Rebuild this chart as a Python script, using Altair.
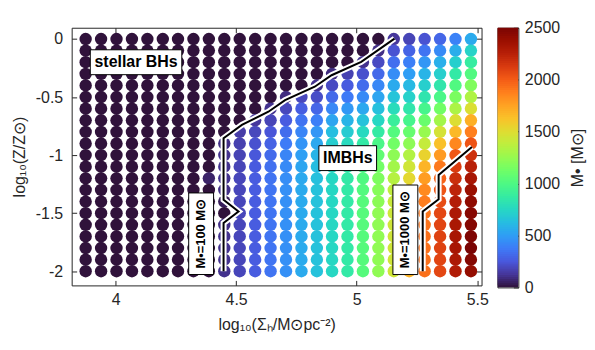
import altair as alt
import pandas as pd

# log10(Sigma_h) grid (columns) and log10(Z/Zsun) grid (rows)
x_vals = [3.876, 3.940, 4.004, 4.068, 4.132, 4.196, 4.259, 4.323, 4.387, 4.451,
          4.515, 4.579, 4.643, 4.707, 4.771, 4.835, 4.898, 4.962, 5.026, 5.090,
          5.154, 5.218, 5.282, 5.346, 5.410, 5.474]
y_vals = [0.0, -0.1, -0.2, -0.3, -0.4, -0.5, -0.6, -0.7, -0.8, -0.9, -1.0,
          -1.1, -1.2, -1.3, -1.4, -1.5, -1.6, -1.7, -1.8, -1.9, -2.0]

# M_bullet [Msun] per row (top row y=0 first), one value per column
M_rows = [
    [0,0,0,0,0,0,0,0,0, 0,0,0,0,0,0,0,0,0,0,0, 130,180,230,300,400,550],
    [0,0,0,0,0,0,0,0,0, 0,0,0,0,0,0,0,0,0,0,100, 230,290,350,430,560,730],
    [0,0,0,0,0,0,0,0,0, 0,0,0,0,0,0,0,0,0,110,200, 330,390,470,570,710,880],
    [0,0,0,0,0,0,0,0,0, 0,0,0,0,0,0,0,90,170,220,310, 440,500,590,710,860,1010],
    [0,0,0,0,0,0,0,0,0, 0,0,0,0,0,0,110,200,260,320,420, 550,610,710,840,1010,1180],
    [0,0,0,0,0,0,0,0,0, 0,0,0,0,90,190,210,310,370,430,530, 660,720,830,980,1160,1330],
    [0,0,0,0,0,0,0,0,0, 0,0,0,110,190,270,300,420,480,540,640, 780,840,960,1130,1320,1480],
    [0,0,0,0,0,0,0,0,0, 0,0,130,180,265,345,390,530,590,650,750, 900,960,1100,1290,1490,1700],
    [0,0,0,0,0,0,0,0,0, 0,150,190,240,325,410,470,630,690,760,870, 1020,1090,1250,1460,1660,1880],
    [0,0,0,0,0,0,0,0,0, 100,165,225,285,375,465,540,700,770,860,980, 1130,1220,1400,1630,1850,2030],
    [0,0,0,0,0,0,0,0,0, 110,175,245,315,410,505,590,730,820,930,1070, 1220,1340,1550,1780,2020,2170],
    [0,0,0,0,0,0,0,0,0, 110,180,258,335,430,530,625,745,845,975,1130, 1290,1440,1680,1900,2120,2250],
    [0,0,0,0,0,0,0,0,60, 110,185,265,345,442,545,640,750,855,1005,1170, 1350,1520,1770,1980,2180,2320],
    [0,0,0,0,0,0,0,0,0, 100,185,265,350,450,550,650,750,860,1020,1200, 1390,1580,1840,2030,2230,2380],
    [0,0,0,0,0,0,0,0,0, 40,185,265,350,450,550,650,750,860,1030,1215, 1415,1630,1885,2060,2270,2420],
    [0,0,0,0,0,0,0,0,0, 0,185,265,350,450,550,650,750,860,1030,1230, 1430,1655,1910,2080,2300,2450],
    [0,0,0,0,0,0,0,0,0, 100,185,265,350,450,550,650,750,860,1030,1230, 1440,1670,1920,2090,2310,2460],
    [0,0,0,0,0,0,0,0,0, 110,185,265,350,450,550,650,750,860,1030,1230, 1440,1680,1930,2100,2320,2480],
    [0,0,0,0,0,0,0,0,0, 110,185,265,350,450,550,650,750,860,1030,1230, 1440,1680,1930,2100,2320,2500],
    [0,0,0,0,0,0,0,0,0, 110,185,265,350,450,550,650,750,860,1030,1230, 1440,1680,1930,2090,2300,2460],
    [0,0,0,0,0,0,0,0,0, 110,185,265,350,450,550,650,750,860,1030,1230, 1440,1680,1930,2080,2280,2400],
]

# contour paths (data coordinates)
c100_x = [4.448, 4.448, 4.510, 4.448, 4.448, 4.524, 4.634, 4.703, 4.826, 4.896, 5.019, 5.157]
c100_y = [-2.0, -1.585, -1.485, -1.385, -0.854, -0.740, -0.626, -0.526, -0.411, -0.312, -0.197, 0.003]
c1000_x = [5.274, 5.274, 5.340, 5.340, 5.478]
c1000_y = [-2.0, -1.486, -1.380, -1.170, -0.930]

x_ticks = [4, 4.5, 5, 5.5]
y_ticks = [-2, -1.5, -1, -0.5, 0]
cb_ticks = [0, 500, 1000, 1500, 2000, 2500]
CMAX = 2500


# turbo colormap (MATLAB-like): polynomial approximation, true table end colours
def turbo_hex(t):
    r = 0.13572138 + t * (4.61539260 + t * (-42.66032258 + t * (132.13108234 + t * (-152.94239396 + t * 59.28637943))))
    g = 0.09140261 + t * (2.19418839 + t * (4.84296658 + t * (-14.18503333 + t * (4.27729857 + t * 2.82956604))))
    b = 0.10667330 + t * (12.64194608 + t * (-60.58204836 + t * (110.36276771 + t * (-89.90310912 + t * 27.34824973))))
    c = [max(0, min(255, round(v * 255))) for v in (r, g, b)]
    return "#%02x%02x%02x" % tuple(c)


NSTOP = 20
stop_t = [k / NSTOP for k in range(NSTOP + 1)]
stop_colors = [turbo_hex(t) for t in stop_t]
stop_colors[0] = "#30123b"
stop_colors[-1] = "#7a0403"
stop_vals = [t * CMAX for t in stop_t]
cscale = alt.Scale(domain=stop_vals, range=stop_colors, interpolate="rgb")

grid = pd.DataFrame(
    [{"x": x_vals[j], "y": y_vals[i], "M": M_rows[i][j]}
     for i in range(len(y_vals)) for j in range(len(x_vals))]
)
cont = pd.DataFrame(
    [{"cx": a, "cy": b, "i": k, "g": "c100"} for k, (a, b) in enumerate(zip(c100_x, c100_y))]
    + [{"cx": a, "cy": b, "i": k, "g": "c1000"} for k, (a, b) in enumerate(zip(c1000_x, c1000_y))]
)
# colour-bar strip samples
CB_STEP = 20
cbar = pd.DataFrame({"v0": [k * CB_STEP for k in range(CMAX // CB_STEP)]})

FONT = "Liberation Sans"
TXT = "#262626"
xs = alt.Scale(domain=[3.818, 5.518], nice=False, zero=False)
ys = alt.Scale(domain=[-2.122, 0.097], nice=False, zero=False)

lab = "''+datum.value"

circles = alt.Chart(grid).mark_circle(size=155, opacity=1).encode(
    x=alt.X("x:Q", scale=xs, axis=alt.Axis(
        values=x_ticks, labelExpr=lab, title="log₁₀(Σₕ/M⊙pc⁻²)", grid=False,
        domain=False, tickSize=5, offset=-5, labelPadding=6, titlePadding=9,
        labelFontSize=16, titleFontSize=16, labelFont=FONT, titleFont=FONT,
        titleFontWeight="normal", labelColor=TXT, titleColor=TXT, tickColor=TXT)),
    y=alt.Y("y:Q", scale=ys, axis=alt.Axis(
        values=y_ticks, labelExpr=lab, title="log₁₀(Z/Z⊙)", grid=False,
        domain=False, tickSize=5, offset=-5, labelPadding=9, titlePadding=8,
        labelFontSize=16, titleFontSize=16, labelFont=FONT, titleFont=FONT,
        titleFontWeight="normal", labelColor=TXT, titleColor=TXT, tickColor=TXT)),
    color=alt.Color("M:Q", scale=cscale, legend=None),
)

white_lines = alt.Chart(cont).mark_line(color="white", strokeWidth=6, strokeJoin="miter").encode(
    x=alt.X("cx:Q", scale=xs, axis=alt.Axis(orient="top", values=x_ticks, labels=False, title=None,
                                             domain=False, grid=False, tickSize=5, offset=-5, tickColor=TXT)),
    y=alt.Y("cy:Q", scale=ys, axis=alt.Axis(orient="right", values=y_ticks, labels=False, title=None,
                                             domain=False, grid=False, tickSize=5, offset=-5, tickColor=TXT)),
    detail="g:N", order="i:Q",
)
black_lines = alt.Chart(cont).mark_line(color="black", strokeWidth=2, strokeJoin="miter").encode(
    x=alt.X("cx:Q", scale=xs, axis=None),
    y=alt.Y("cy:Q", scale=ys, axis=None),
    detail="g:N", order="i:Q",
)


def box(lx, ly, shape, size):
    return alt.Chart(pd.DataFrame({"lx": [lx], "ly": [ly]})).mark_point(
        shape=shape, size=size, filled=True, fill="white", stroke="black",
        strokeWidth=1, opacity=1, fillOpacity=1).encode(
        x=alt.X("lx:Q", scale=xs, axis=None), y=alt.Y("ly:Q", scale=ys, axis=None))


def label(lx, ly, text, size, angle=0):
    return alt.Chart(pd.DataFrame({"lx": [lx], "ly": [ly], "t": [text]})).mark_text(
        font=FONT, fontSize=size, fontWeight="bold", color="black", angle=angle,
        align="center", baseline="middle").encode(
        x=alt.X("lx:Q", scale=xs, axis=None), y=alt.Y("ly:Q", scale=ys, axis=None), text="t:N")


boxes = [
    box(4.085, -0.20, "M-1,-0.272L1,-0.272L1,0.272L-1,0.272Z", 8464),
    box(4.963, -1.026, "M-1,-0.431L1,-0.431L1,0.431L-1,0.431Z", 3364),
    box(4.355, -1.677, "M-0.305,-1L0.305,-1L0.305,1L-0.305,1Z", 6724),
    box(5.202, -1.643, "M-0.278,-1L0.278,-1L0.278,1L-0.278,1Z", 8100),
]
labels = [
    label(4.085, -0.20, "stellar BHs", 16),
    label(4.963, -1.026, "IMBHs", 16),
    label(4.355, -1.677, "M•=100 M⊙", 13, 270),
    label(5.202, -1.643, "M•=1000 M⊙", 13, 270),
]

main = alt.layer(circles, white_lines, black_lines, *boxes, *labels).resolve_axis(
    x="independent", y="independent"
).properties(width=412, height=259)

colorbar = alt.Chart(cbar).mark_rect(clip=True).transform_calculate(
    v1="datum.v0 + %d" % (CB_STEP * 2), vm="datum.v0 + %g" % (CB_STEP / 2)
).encode(
    x=alt.value(0), x2=alt.value(21),
    y=alt.Y("v0:Q", scale=alt.Scale(domain=[0, CMAX], nice=False, zero=False),
            axis=alt.Axis(orient="right", values=cb_ticks, labelExpr=lab, title="M• [M⊙]",
                          titleAngle=270, titleBaseline="top", titlePadding=10,
                          grid=False, domain=False,
                          tickSize=5, offset=-5, labelPadding=6, labelFontSize=16,
                          titleFontSize=16, labelFont=FONT, titleFont=FONT,
                          titleFontWeight="normal", labelColor=TXT, titleColor=TXT,
                          tickColor=TXT, labelBaseline="middle")),
    y2="v1:Q",
    color=alt.Color("vm:Q", scale=cscale, legend=None),
).properties(width=21, height=261)

chart = alt.hconcat(main, colorbar, spacing=7).properties(
    padding={"left": 2, "top": 10, "right": 0, "bottom": 0},
    background="white",
).configure_view(stroke=TXT, strokeWidth=1)

chart.save("out.html", embed_options={"renderer": "svg", "actions": False})
